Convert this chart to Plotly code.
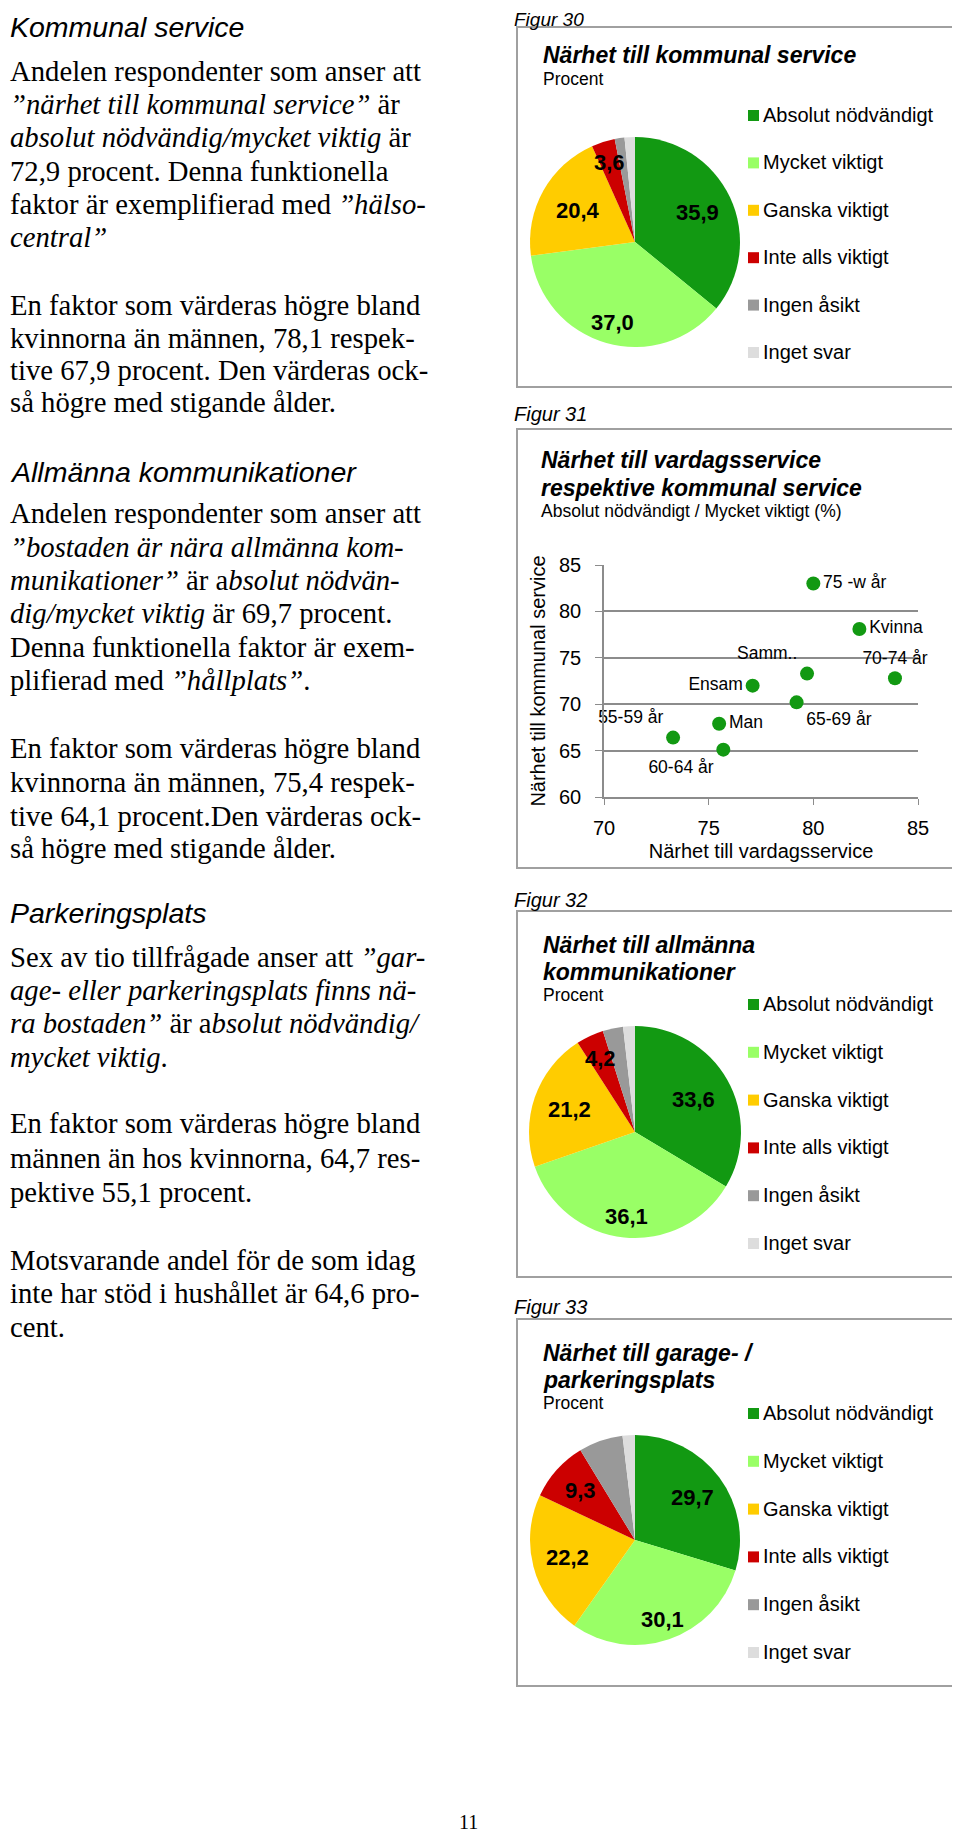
import math
import plotly.graph_objects as go

# The page body has an 8px default margin; the figure is sized so that
# page coordinates (960 x 1835) map onto it exactly.
OFF = 8
FW, FH = 960 - OFF, 1835 - OFF

# ---------------- data ----------------
categories = ["Absolut nödvändigt", "Mycket viktigt", "Ganska viktigt",
              "Inte alls viktigt", "Ingen åsikt", "Inget svar"]
kommunal_service = [35.9, 37.0, 20.4, 3.6, 1.5, 1.6]
allm_kommunikationer = [33.6, 36.1, 21.2, 4.2, 3.1, 1.8]
garage_parkering = [29.7, 30.1, 22.2, 9.3, 6.8, 1.9]

scatter_labels = ["75 -w år", "Kvinna", "70-74 år", "Samm..", "Ensam",
                  "65-69 år", "Man", "55-59 år", "60-64 år"]
vardagsservice = [80.0, 82.2, 83.9, 79.7, 77.1, 79.2, 75.5, 73.3, 75.7]
kommunal_y = [83.0, 78.1, 72.8, 73.3, 72.0, 70.2, 67.9, 66.4, 65.1]
x_ticks = [70, 75, 80, 85]
y_ticks = [60, 65, 70, 75, 80, 85]

# ---------------- style ----------------
colors = ["#129912", "#99ff66", "#ffcc00", "#cc0000", "#999999", "#dddddd"]
SANS = "Liberation Sans, Arial, sans-serif"
SERIF = "Liberation Serif, Times New Roman, serif"
BORDER = "#a0a0a0"


def px(x):
    return (x - OFF) / FW


def py(y):
    return 1 - (y - OFF) / FH


fig = go.Figure()
annotations = []
shapes = []


def text(x, y, s, size, family=SANS, anchor="left", color="black", yanchor="middle"):
    annotations.append(dict(x=px(x), y=py(y), xref="paper", yref="paper",
                            text=s, showarrow=False, xanchor=anchor,
                            yanchor=yanchor, align="left",
                            font=dict(size=size, family=family, color=color)))


def add_pie(values, cx, cy, r, label_radii, legend_y0, legend_step):
    fig.add_trace(go.Pie(
        values=values, labels=categories, sort=False,
        direction="clockwise", rotation=0,
        marker=dict(colors=colors, line=dict(width=0)),
        textinfo="none", showlegend=False, hoverinfo="label+value",
        domain=dict(x=[px(cx - r), px(cx + r)], y=[py(cy + r), py(cy - r)])))
    total = sum(values)
    cum = 0.0
    for v, rf in zip(values, label_radii):
        if rf is not None:
            a = (cum + v / 2) / total * 2 * math.pi
            lx = cx + rf * r * math.sin(a)
            ly = cy - rf * r * math.cos(a)
            text(lx, ly, "<b>" + f"{v:.1f}".replace(".", ",") + "</b>", 22,
                 anchor="center")
        cum += v
    # legend
    for i, (cat, col) in enumerate(zip(categories, colors)):
        yy = legend_y0 + i * legend_step
        shapes.append(dict(type="rect", xref="paper", yref="paper",
                           x0=px(748), x1=px(759), y0=py(yy + 6), y1=py(yy - 5),
                           fillcolor=col, line=dict(width=0)))
        text(761, yy, cat, 20)


# ---------------- boxes ----------------
for (x0, y0, x1, y1) in [(517, 27, 958, 387), (517, 429, 958, 868),
                         (517, 911, 958, 1277), (517, 1319, 957, 1686)]:
    shapes.append(dict(type="rect", xref="paper", yref="paper",
                       x0=px(x0), x1=px(x1), y0=py(y1), y1=py(y0),
                       line=dict(color=BORDER, width=2), fillcolor="rgba(0,0,0,0)"))

# figure labels
text(512, 20, "<i>Figur 30</i>", 19)
text(512, 414, "<i>Figur 31</i>", 20)
text(512, 900, "<i>Figur 32</i>", 20)
text(512, 1307, "<i>Figur 33</i>", 20)

# ---------------- Figur 30 ----------------
text(541, 55, "<b><i>Närhet till kommunal service</i></b>", 23)
text(541, 79, "Procent", 17.5)
add_pie(kommunal_service, 635, 242, 105, [0.66, 0.8, 0.62, 0.79, None, None], 115, 47.4)

# ---------------- Figur 32 ----------------
text(541, 945, "<b><i>Närhet till allmänna</i></b>", 23)
text(541, 972, "<b><i>kommunikationer</i></b>", 23)
text(541, 995, "Procent", 17.5)
add_pie(allm_kommunikationer, 635, 1132, 106, [0.63, 0.8, 0.65, 0.77, None, None], 1004, 47.8)

# ---------------- Figur 33 ----------------
text(541, 1353, "<b><i>Närhet till garage- /</i></b>", 23)
text(541, 1380, "<b><i>parkeringsplats</i></b>", 23)
text(541, 1403, "Procent", 17.5)
add_pie(garage_parkering, 635, 1540, 105, [0.68, 0.8, 0.66, 0.7, None, None], 1413, 47.8)

# ---------------- Figur 31 (scatter) ----------------
text(539, 460, "<b><i>Närhet till vardagsservice</i></b>", 23)
text(539, 488, "<b><i>respektive kommunal service</i></b>", 23)
text(539, 511, "Absolut nödvändigt / Mycket viktigt (%)", 17.5)

positions = ["middle right", "middle right", "top center", "top left",
             "middle left", "bottom right", "middle right", "top left",
             "bottom left"]
fig.add_trace(go.Scatter(
    x=vardagsservice, y=kommunal_y, text=scatter_labels,
    mode="markers+text", textposition=positions,
    marker=dict(color="#129912", size=14),
    textfont=dict(size=17.5, family=SANS, color="black"),
    cliponaxis=False, showlegend=False, xaxis="x", yaxis="y"))

fig.update_layout(
    xaxis=dict(domain=[px(604), px(918)], range=[70, 85], tickvals=x_ticks,
               showgrid=False, showline=True, linecolor="#8c8c8c", linewidth=1.5,
               ticks="outside", ticklen=6, tickcolor="#8c8c8c",
               ticklabelstandoff=6, zeroline=False, automargin=False,
               tickfont=dict(size=20, family=SANS, color="black"),
               title=dict(text="Närhet till vardagsservice", standoff=6,
                          font=dict(size=20, family=SANS, color="black")),
               fixedrange=True, anchor="y"),
    yaxis=dict(domain=[py(797), py(565)], range=[60, 85], tickvals=y_ticks,
               showgrid=True, gridcolor="#8c8c8c", gridwidth=1.5,
               showline=True, linecolor="#8c8c8c", linewidth=1.5,
               ticks="outside", ticklen=7, tickcolor="#8c8c8c",
               ticklabelstandoff=10, zeroline=False, automargin=False,
               tickfont=dict(size=20, family=SANS, color="black"),
               title=dict(text="Närhet till kommunal service", standoff=8,
                          font=dict(size=20, family=SANS, color="black")),
               fixedrange=True, anchor="x"),
)

# ---------------- left column text ----------------
HEAD = 28.5
BODY = 28.7
LX = 8

text(LX, 27, "<i>Kommunal service</i>", HEAD)
body1 = [
    (71, "Andelen respondenter som anser att"),
    (104, "<i>”närhet till kommunal service”</i> är"),
    (137, "<i>absolut nödvändig/mycket viktig</i> är"),
    (171, "72,9 procent. Denna funktionella"),
    (204, "faktor är exemplifierad med <i>”hälso-</i>"),
    (237, "<i>central”</i>"),
    (305, "En faktor som värderas högre bland"),
    (338, "kvinnorna än männen, 78,1 respek-"),
    (370, "tive 67,9 procent. Den värderas ock-"),
    (402, "så högre med stigande ålder."),
]
text(LX, 472, "<i>Allmänna kommunikationer</i>", HEAD)
body2 = [
    (513, "Andelen respondenter som anser att"),
    (547, "<i>”bostaden är nära allmänna kom-</i>"),
    (580, "<i>munikationer”</i> är a<i>bsolut nödvän-</i>"),
    (613, "<i>dig/mycket viktig</i> är 69,7 procent."),
    (647, "Denna funktionella faktor är exem-"),
    (680, "plifierad med <i>”hållplats”</i>."),
    (748, "En faktor som värderas högre bland"),
    (782, "kvinnorna än männen, 75,4 respek-"),
    (816, "tive 64,1 procent.Den värderas ock-"),
    (848, "så högre med stigande ålder."),
]
text(LX, 913, "<i>Parkeringsplats</i>", HEAD)
body3 = [
    (957, "Sex av tio tillfrågade anser att <i>”gar-</i>"),
    (990, "<i>age- eller parkeringsplats finns nä-</i>"),
    (1023, "<i>ra bostaden”</i> är a<i>bsolut nödvändig/</i>"),
    (1057, "<i>mycket viktig</i>."),
    (1123, "En faktor som värderas högre bland"),
    (1158, "männen än hos kvinnorna, 64,7 res-"),
    (1192, "pektive 55,1 procent."),
    (1260, "Motsvarande andel för de som idag"),
    (1293, "inte har stöd i hushållet är 64,6 pro-"),
    (1327, "cent."),
]
for yy, s in body1 + body2 + body3:
    text(LX, yy, s, BODY, family=SERIF)

text(468, 1822, "11", 20, family=SERIF, anchor="center")

fig.update_layout(
    width=FW, height=FH,
    margin=dict(l=0, r=0, t=0, b=0, pad=0, autoexpand=False),
    paper_bgcolor="white", plot_bgcolor="white",
    annotations=annotations, shapes=shapes,
    showlegend=False,
)

fig.write_html("out.html")
